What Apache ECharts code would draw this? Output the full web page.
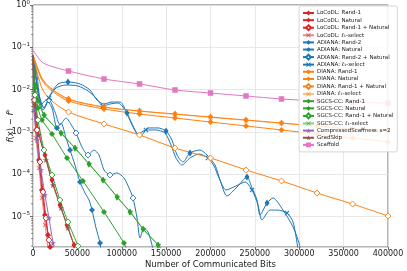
<!DOCTYPE html>
<html><head><meta charset="utf-8">
<script src="https://cdn.jsdelivr.net/npm/echarts@6/dist/echarts.min.js"></script>
<style>html,body{margin:0;padding:0;background:#fff}#c{width:407px;height:271px}</style>
</head><body><div id="c"></div><script>
// ---------- tick labels ----------
const xTicks = [0, 50000, 100000, 150000, 200000, 250000, 300000, 350000, 400000];
const yMin = 1.9e-6, yMax = 1;
const minorMultipliers = [2, 3, 4, 5, 6, 7, 8, 9];
const minorDecades = [1e-6, 1e-5, 1e-4, 1e-3, 1e-2, 1e-1];

// ---------- LoCoDL ----------
const locodlRand1X = [0,2250,5600,13500,21400,30400,38300,46200,48500];
const locodlRand1Y = [0.0658,5.68e-3,1.11e-3,2.84e-4,7.29e-5,1.87e-5,6.3e-6,2.12e-6,1.23e-6];
const locodlNaturalX = [0,1100,3400,6800,10100,13500,16900,19200,20300];
const locodlNaturalY = [0.0658,5.68e-3,1.11e-3,2.17e-4,4.23e-5,1.085e-5,3.65e-6,1.9e-6,9.4e-7];
const locodlRandNatX = [0,1700,4500,7900,11300,14600,18000,20300];
const locodlRandNatY = [0.0658,5.68e-3,1.11e-3,1.94e-4,3.8e-5,9.22e-6,2.78e-6,1.61e-6];
const locodlL1X = [0,1100,3400,6800,10100,13500,16900];
const locodlL1Y = [0.0658,4.32e-3,7.17e-4,1.4e-4,2.74e-5,6.3e-6,1.8e-6];

// ---------- ADIANA ----------
const adianaRand2X = [0,4500,7900,12400,19200,28200,39400,53000,64200,72100,80000,89000,98000,105900,113800,120600,129600,140900,149900,156600,162300,169000,176900,188200,196100,205100,210700,218600,229900,241100,246800,252400,255800,263700,270400,281700,293000,300900,304200];
const adianaRand2Y = [0.0658,0.0221,5.68e-3,3.67e-3,7.45e-3,0.01356,0.01512,0.01356,9.78e-3,5.68e-3,4.57e-3,5.09e-3,5.09e-3,2.8e-3,1.24e-3,7.57e-4,1.24e-3,1.24e-3,1.05e-3,6.43e-4,2.84e-4,1.94e-4,3.17e-4,3.73e-4,2.84e-4,1.65e-4,7.29e-5,3.05e-5,4.98e-5,8.58e-5,4.72e-5,2.46e-5,1.085e-5,2.08e-5,2.74e-5,1.42e-5,5.65e-6,1.9e-6,4.1e-7];
const adianaNaturalX = [0,4500,9000,14600,21400,27000,31600,37200,41700,47300,53000,58600,63100,66500,71000,75500,77700];
const adianaNaturalY = [0.0658,0.01284,4.32e-3,5.68e-3,3.67e-3,1.24e-3,1.62e-3,7.17e-4,3.73e-4,1.65e-4,6.54e-5,3.59e-5,2.46e-5,1.42e-5,5.35e-6,2.36e-6,8.4e-7];
const adianaRandNatX = [0,5600,12400,18000,24800,30400,37200,43900,48500,55200,62000,68700,74400,80000,86800,94700,102500,108200,112700,117200,120600,125100,129600,134100,137500];
const adianaRandNatY = [0.0658,9.78e-3,3.67e-3,5.68e-3,2.95e-3,1.46e-3,2.13e-3,1.38e-3,9.42e-4,4.4e-4,2.84e-4,3.73e-4,2.84e-4,1.26e-4,9.57e-5,1.07e-4,8.13e-5,4.72e-5,2.74e-5,9.22e-6,3.1e-6,5.35e-6,4.3e-6,2.12e-6,8.4e-7];
const adianaL1X = [0,3400,6800,11300,18000,25900,37200,50700,62000,71000,78900,86800,95800,103700,111600,118300,127300,138600,148700,155500,161100,167900,176900,187000,197200,204000,209600,217500,228700,238900,246800,253500,258000,267100,274900,286200,293000,298600,300900];
const adianaL1Y = [0.0658,0.0188,6.33e-3,3.29e-3,6.33e-3,0.01091,0.01284,0.01217,9.27e-3,6.33e-3,4.1e-3,4.57e-3,4.82e-3,3.29e-3,1.46e-3,8.92e-4,1.11e-3,1.11e-3,9.42e-4,4.9e-4,2.42e-4,1.65e-4,2.42e-4,3.0e-4,2.42e-4,1.56e-4,8.13e-5,4.23e-5,5.26e-5,6.54e-5,4.23e-5,1.87e-5,8.27e-6,1.42e-5,1.42e-5,1.21e-5,7.41e-6,1.61e-6,4.1e-7];

// ---------- DIANA ----------
const dianaX = [0,10000,20000,40000,80000,120000,160000,200000,240000,280000,320000,360000,400000];
const dianaRand1Y = [0.0658,0.0188,0.0109,6.0e-3,3.88e-3,3.12e-3,2.65e-3,2.25e-3,1.91e-3,1.62e-3,1.38e-3,1.17e-3,1.05e-3];
const dianaNaturalY = [0.0658,0.0169,9.8e-3,5.37e-3,3.48e-3,2.65e-3,2.13e-3,1.71e-3,1.38e-3,1.11e-3,8.9e-4,7.2e-4,5.8e-4];
const dianaRandNatY = [0.0658,0.0109,5.68e-3,2.95e-3,1.54e-3,8.45e-4,4.16e-4,2.42e-4,1.26e-4,6.91e-5,3.59e-5,1.97e-5,1.03e-5];
const dianaL1Y = [0.0658,0.018,0.0105,5.8e-3,3.8e-3,3.1e-3,2.6e-3,2.2e-3,1.88e-3,1.6e-3,1.36e-3,1.16e-3,1.04e-3];

// ---------- SGCS-CC ----------
const sgcsRand1X = [0,2250,5600,12400,31600,47300,63100,78900,94700,109300,124000,140900,144300];
const sgcsRand1Y = [0.0658,0.0128,5.68e-3,2.51e-3,9.42e-4,4.16e-4,1.74e-4,7.29e-5,2.89e-5,1.28e-5,5.06e-6,2.12e-6,1.45e-6];
const sgcsNaturalX = [0,2250,5600,10100,21400,38300,56300,80000,102500,105900];
const sgcsNaturalY = [0.0658,0.0109,3.67e-3,1.91e-3,8.9e-4,2.42e-4,6.91e-5,1.28e-5,2.36e-6,1.61e-6];
const sgcsRandNatX = [0,2250,5600,12400,21400,30400,39400,50700,53000];
const sgcsRandNatY = [0.0658,7.45e-3,1.91e-3,3.73e-4,9.57e-5,2.46e-5,7.41e-6,2.0e-6,1.23e-6];
const sgcsL1X = [0,2250,5600,13500,32700,48400,64200,80000,95800,110400,125100,142000];
const sgcsL1Y = [0.0658,0.0122,5.3e-3,2.35e-3,8.9e-4,3.9e-4,1.65e-4,6.9e-5,2.75e-5,1.22e-5,4.8e-6,2.0e-6];

// ---------- others ----------
const compScaffX = [0,1100,4500,9000,13500,18000,22500,23700];
const compScaffY = [0.0658,3.29e-3,6.43e-4,1.26e-4,3.22e-5,9.22e-6,2.36e-6,1.23e-6];
const gradSkipX = [0,2250,6800,14600,22500,31600,39400,47300];
const gradSkipY = [0.0658,4.32e-3,8.45e-4,2.17e-4,5.56e-5,1.59e-5,5.35e-6,1.8e-6];
const scaffoldX = [0,10000,20000,40000,80000,120000,160000,200000,240000,280000,320000,360000,400000];
const scaffoldY = [0.0863,0.045,0.036,0.0275,0.0178,0.0136,9.8e-3,8.3e-3,7.06e-3,6.0e-3,5.4e-3,5.0e-3,4.82e-3];

// marker indices
const mkAll = n => Array.from({length: n - 1}, (_, i) => i + 1);
const adianaRand2Marks = [6, 13, 18, 22, 29, 33];
const adianaNaturalMarks = [5, 8, 10, 13, 15];
const adianaRandNatMarks = [3, 8, 10, 14, 18];
const adianaL1Marks = [4, 10, 16, 24, 30, 35];
const dianaMarks = [3,4,5,6,7,8,9,10,11,12];

// ---------- styles ----------
const RED='#d62728', BLUE='#1f77b4', ORANGE='#ff7f0e', GREEN='#2ca02c', PURPLE='#9467bd', BROWN='#8c564b', PINK='#e377c2';
const THIN = 'path://M5,0L8.5,10L5,20L1.5,10Z';
const XS = 'path://M0,1.5L1.5,0L5,3.5L8.5,0L10,1.5L6.5,5L10,8.5L8.5,10L5,6.5L1.5,10L0,8.5L3.5,5Z';
const STAR = 'path://M5,0L6.2,3.6L10,3.8L7,6.1L8.1,9.8L5,7.6L1.9,9.8L3,6.1L0,3.8L3.8,3.6Z';

function mk(name, xs, ys, marks, color, sym, size, hollow, smooth, alpha) {
  const data = xs.map((x, i) => marks.indexOf(i) >= 0 ? [x, ys[i]] : {value: [x, ys[i]], symbol: 'none'});
  return {
    type: 'line', name, data, symbol: sym, symbolSize: size, showSymbol: true, showAllSymbol: true,
    smooth: smooth, clip: true,
    lineStyle: {color: color, width: 1, opacity: alpha == null ? 1 : alpha},
    itemStyle: hollow ? {color: '#ffffff', borderColor: color, borderWidth: 0.9, opacity: alpha == null ? 1 : alpha}
                      : {color: color, borderWidth: 0, opacity: alpha == null ? 1 : alpha},
    emphasis: {disabled: true}, z: 2
  };
}
const L1A = 0.55;
const series = [
  mk('LoCoDL: Rand-1', locodlRand1X, locodlRand1Y, mkAll(locodlRand1X.length), RED, THIN, [5,7], false, 0.2),
  mk('LoCoDL: Natural', locodlNaturalX, locodlNaturalY, mkAll(locodlNaturalX.length), RED, 'diamond', 6, false, 0.2),
  mk('LoCoDL: Rand-1 + Natural', locodlRandNatX, locodlRandNatY, mkAll(locodlRandNatX.length), RED, 'diamond', 6, true, 0.2),
  mk('LoCoDL: ℓ₁-select', locodlL1X, locodlL1Y, mkAll(locodlL1X.length), RED, XS, 5, false, 0.2, L1A),
  mk('ADIANA: Rand-2', adianaRand2X, adianaRand2Y, adianaRand2Marks, BLUE, THIN, [5,7], false, 0.25),
  mk('ADIANA: Natural', adianaNaturalX, adianaNaturalY, adianaNaturalMarks, BLUE, 'diamond', 6, false, 0.25),
  mk('ADIANA: Rand-2 + Natural', adianaRandNatX, adianaRandNatY, adianaRandNatMarks, BLUE, 'diamond', 6, true, 0.25),
  mk('ADIANA: ℓ₁-select', adianaL1X, adianaL1Y, adianaL1Marks, BLUE, XS, 5, false, 0.25),
  mk('DIANA: Rand-1', dianaX, dianaRand1Y, dianaMarks, ORANGE, THIN, [5,7], false, 0.3),
  mk('DIANA: Natural', dianaX, dianaNaturalY, dianaMarks, ORANGE, 'diamond', 6, false, 0.3),
  mk('DIANA: Rand-1 + Natural', dianaX, dianaRandNatY, dianaMarks, ORANGE, 'diamond', 6, true, 0.3),
  mk('DIANA: ℓ₁-select', dianaX, dianaL1Y, dianaMarks, ORANGE, XS, 5, false, 0.3, L1A),
  mk('SGCS-CC: Rand-1', sgcsRand1X, sgcsRand1Y, mkAll(sgcsRand1X.length), GREEN, THIN, [5,7], false, 0.2),
  mk('SGCS-CC: Natural', sgcsNaturalX, sgcsNaturalY, mkAll(sgcsNaturalX.length), GREEN, 'diamond', 6, false, 0.2),
  mk('SGCS-CC: Rand-1 + Natural', sgcsRandNatX, sgcsRandNatY, mkAll(sgcsRandNatX.length), GREEN, 'diamond', 6, true, 0.2),
  mk('SGCS-CC: ℓ₁-select', sgcsL1X, sgcsL1Y, mkAll(sgcsL1X.length), GREEN, XS, 5, false, 0.2, L1A),
  mk('CompressedScaffnew: s=2', compScaffX, compScaffY, mkAll(compScaffX.length), PURPLE, STAR, 6, false, 0.2),
  mk('GradSkip', gradSkipX, gradSkipY, mkAll(gradSkipX.length), BROWN, STAR, 6, false, 0.2),
  mk('Scaffold', scaffoldX, scaffoldY, dianaMarks, PINK, 'rect', 5.5, false, 0.3)
];

// minor ticks of the log axis, placed through the y scale
const minorVals = [];
minorDecades.forEach(d => minorMultipliers.forEach(m => { const v = d * m; if (v > yMin && v < yMax) minorVals.push([0, v]); }));
const minorTickSeries = {
  type: 'custom', name: '__minor', silent: true, clip: false, z: 5,
  encode: {x: 0, y: 1},
  data: minorVals,
  renderItem: (params, api) => {
    const p = api.coord([0, api.value(1)]);
    return {type: 'line', shape: {x1: p[0] - 2, y1: p[1], x2: p[0], y2: p[1]}, style: {stroke: '#444', lineWidth: 0.6}};
  }
};

const supExp = v => { const e = Math.round(Math.log10(v)); return '{b|10}{s|' + (e < 0 ? '\u2212' + (-e) : String(e)) + '}'; };

const chart = echarts.init(document.getElementById('c'), null, {renderer: 'canvas'});
chart.setOption({
  animation: false,
  backgroundColor: '#fff',
  textStyle: {fontFamily: 'DejaVu Sans'},
  grid: {left: 33, right: 19, top: 5, bottom: 24, containLabel: false, outerBoundsMode: 'none',
         show: true, borderColor: '#444', borderWidth: 0.8, backgroundColor: '#fff'},
  legend: {
    orient: 'vertical', left: 299, top: 6, padding: [4, 4, 4, 3],
    itemWidth: 11, itemHeight: 6, itemGap: 1.15, selectedMode: false,
    backgroundColor: 'rgba(255,255,255,0.85)', borderColor: '#ccc', borderWidth: 0.8, borderRadius: 2,
    textStyle: {fontSize: 5.5, color: '#222', fontFamily: 'DejaVu Sans', padding: [0, 0, 0, -2]},
    data: series.map(s => s.name)
  },
  xAxis: {
    type: 'value', min: 0, max: 400000, interval: 50000,
    name: 'Number of Communicated Bits', nameLocation: 'middle', nameGap: 13, nameMoveOverlap: false,
    nameTextStyle: {fontSize: 8.5, color: '#222', fontFamily: 'DejaVu Sans'},
    axisLine: {show: false},
    axisTick: {show: true, length: 3, lineStyle: {color: '#444', width: 0.8}},
    axisLabel: {show: true, hideOverlap: false, fontSize: 8, color: '#222', margin: 3, formatter: v => String(v)},
    splitLine: {show: true, lineStyle: {color: '#e2e2e2', width: 0.8}}
  },
  yAxis: {
    type: 'log', logBase: 10, min: yMin, max: yMax,
    name: '{i|f}(x) \u2212 {i|f}{s|*}', nameLocation: 'middle', nameGap: 17, nameRotate: 90, nameMoveOverlap: false,
    nameTextStyle: {fontSize: 8.5, color: '#222', fontFamily: 'DejaVu Sans',
      rich: {i: {fontSize: 8.5, fontStyle: 'italic', color: '#222'}, s: {fontSize: 6, color: '#222', padding: [0, 0, 4, 0]}}},
    axisLine: {show: false},
    axisTick: {show: true, length: 3, lineStyle: {color: '#444', width: 0.8}},
    axisLabel: {showMinLabel: false, margin: 3, formatter: supExp,
      rich: {b: {fontSize: 8, color: '#222'}, s: {fontSize: 5.5, color: '#222', padding: [0, 0, 5, 0]}}},
    splitLine: {show: true, lineStyle: {color: '#e2e2e2', width: 0.8}}
  },
  series: series.concat([minorTickSeries])
});
</script></body></html>
